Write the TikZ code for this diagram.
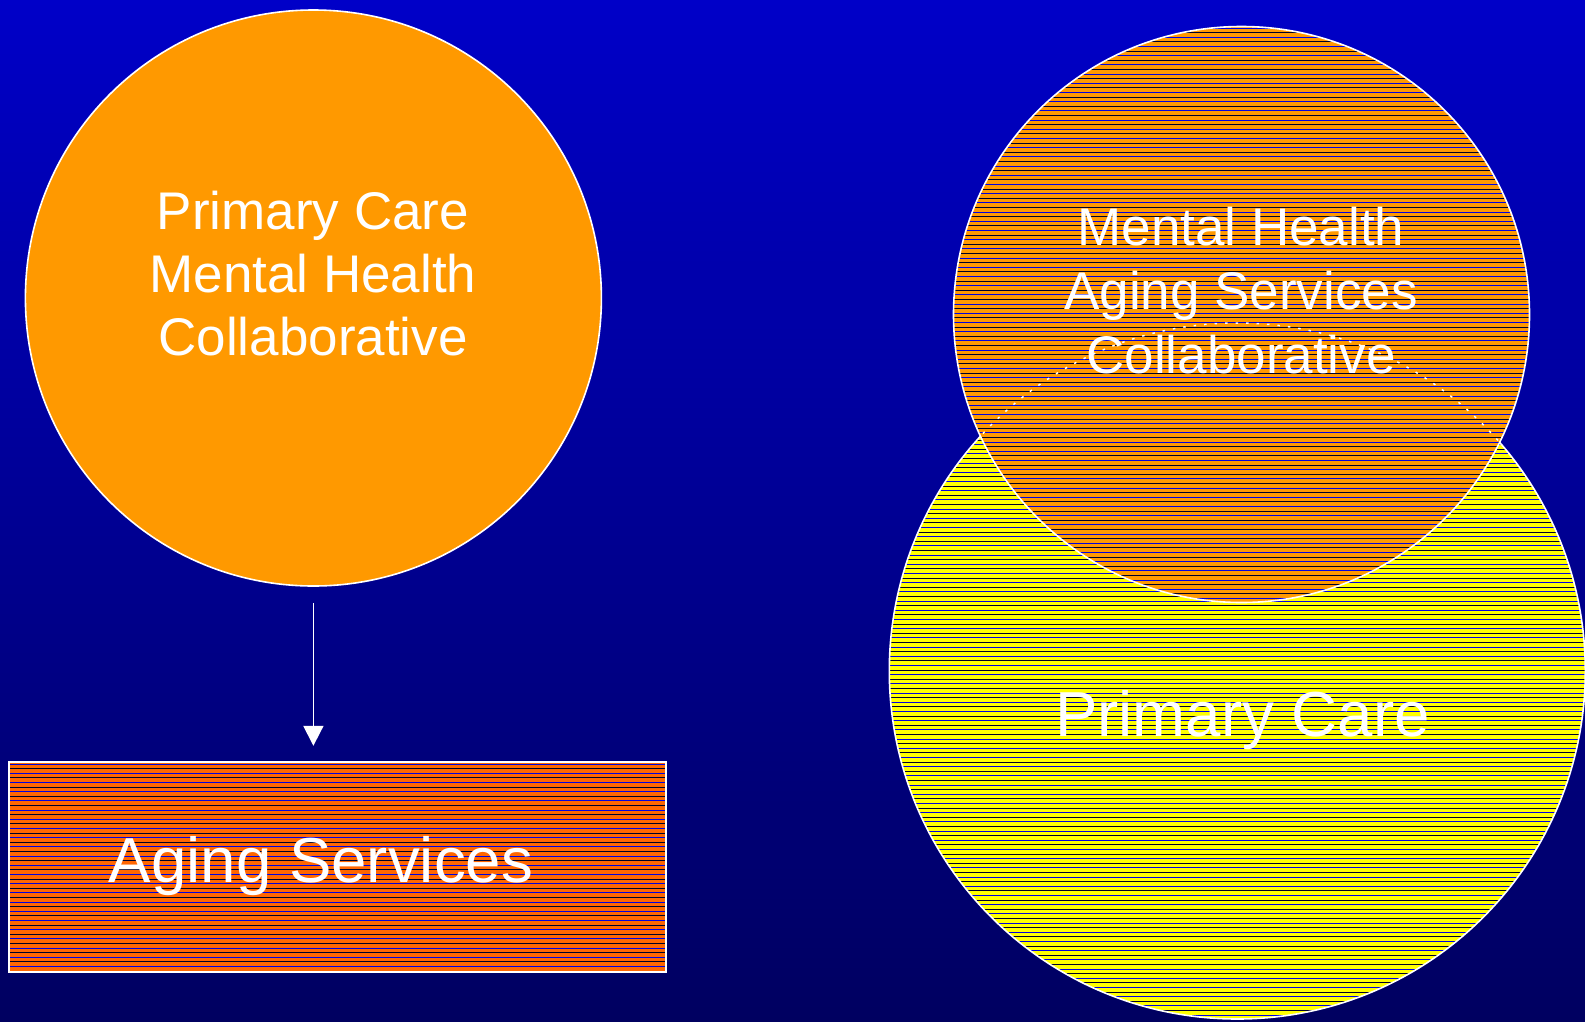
\documentclass[tikz,border=0pt]{standalone}
\usepackage{fontspec}
\setmainfont{Liberation Sans}
\usetikzlibrary{arrows.meta}

\definecolor{bgtop}{RGB}{0,0,200}
\definecolor{bgbot}{RGB}{0,0,96}
\definecolor{amber}{RGB}{255,153,0}
\definecolor{tangerine}{RGB}{255,102,0}
\definecolor{lemon}{RGB}{255,255,0}
\definecolor{hatchA}{RGB}{0,0,40}
\definecolor{hatchB}{RGB}{0,0,225}

% horizontal hatch rows: x from #1 to #2, page depth from #3 to #4
\newcommand\hatchrows[4]{%
  \pgfmathtruncatemacro\nrows{(#4-#3)/4.6}%
  \foreach \k in {0,...,\nrows}{%
    \pgfmathsetmacro\yy{#3+2+4.6*\k}%
    \ifodd\k \def\hc{hatchA}\else\def\hc{hatchB}\fi
    \draw[\hc, line width=1pt] (#1,-\yy) -- (#2,-\yy);
  }%
}

\tikzset{
  disc/.style={circle, inner sep=0pt},
  rim/.style={draw=white, line width=1.6pt},
  lbl/.style={text=white, inner sep=0pt, anchor=base, font=\fontsize{53}{64}\selectfont},
  biglbl/.style={lbl, font=\fontsize{63.6}{76}\selectfont},
}

\begin{document}
\begin{tikzpicture}[x=1pt, y=1pt]
  \useasboundingbox (0,0) rectangle (1585,-1021);
  \shade[top color=bgtop, bottom color=bgbot] (0,0) rectangle (1585,-1021);

  % left: collaborative circle leading to aging services
  \node[disc, minimum size=576pt, fill=amber, rim] (lc) at (313.4,-298) {};
  \node[lbl] (lc1) at (313,-229) {Primary Care};
  \node[lbl] (lc2) at (313,-292) {Mental Health};
  \node[lbl] (lc3) at (313,-355) {Collaborative};

  \node[rectangle, inner sep=0pt, minimum width=657pt, minimum height=210pt,
        fill=tangerine] (as) at (337.5,-867) {};
  \begin{scope}
    \clip (as.south west) rectangle (as.north east);
    \hatchrows{9}{666}{762}{972}
  \end{scope}
  \draw[white, line width=2pt] (as.south west) rectangle (as.north east);
  \node[biglbl] (ast) at (321,-882) {Aging Services};

  \draw[white, line width=1.8pt, -{Triangle[width=20pt,length=20pt]},
        shorten <=16pt, shorten >=16pt] (lc.south) -- (lc.south |- as.north);

  % right: primary care with the collaborative circle on top
  \node[disc, minimum size=696pt, fill=lemon] (pc) at (1237.3,-671) {};
  \begin{scope}
    \clip (pc.center) circle[radius=348];
    \hatchrows{889}{1585}{323}{1021}
  \end{scope}
  \draw[rim] (pc.center) circle[radius=348];

  \node[disc, minimum size=576pt, fill=amber] (mh) at (1241.5,-314.5) {};
  \begin{scope}
    \clip (mh.center) circle[radius=288];
    \hatchrows{953}{1530}{26}{603}
    \draw[white, line width=1.5pt, dash pattern=on 2.5pt off 8pt]
      (pc.center) circle[radius=348];
  \end{scope}
  \draw[rim] (mh.center) circle[radius=288];

  \node[lbl] (mh1) at (1241,-245) {Mental Health};
  \node[lbl] (mh2) at (1241,-309) {Aging Services};
  \node[lbl] (mh3) at (1241,-373) {Collaborative};
  \node[biglbl] (pct) at (1242.5,-736) {Primary Care};
\end{tikzpicture}
\end{document}
